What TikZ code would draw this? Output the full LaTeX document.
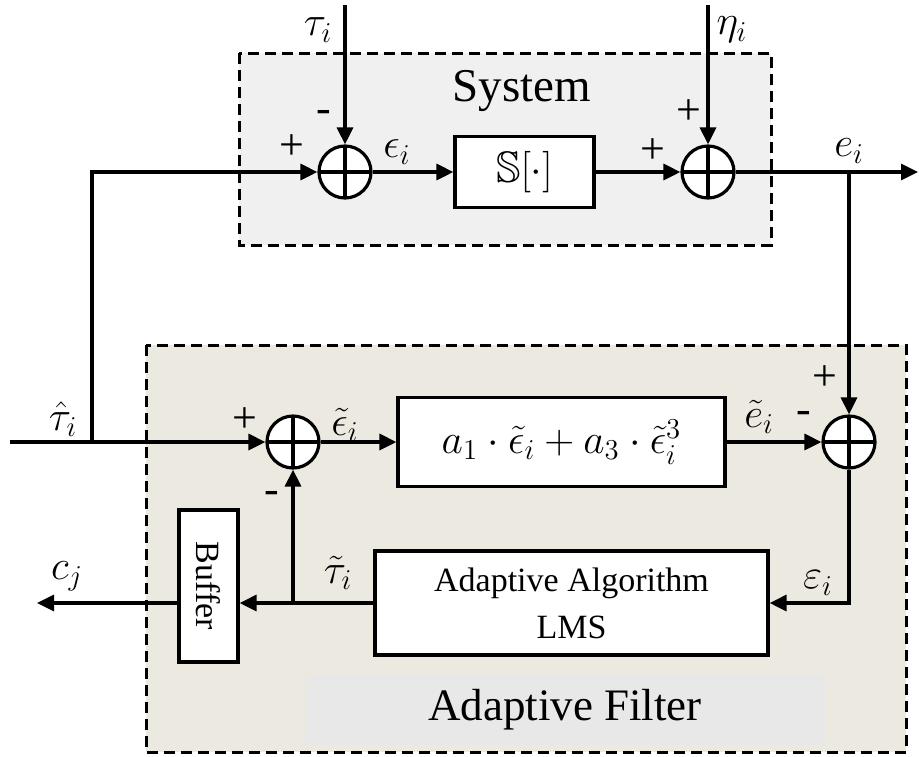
\documentclass[tikz,border=0pt]{standalone}
\usepackage{amsmath,amssymb}
\usepackage{fontspec}
\setmainfont{Liberation Serif}
\usetikzlibrary{arrows.meta}
\definecolor{sysfill}{RGB}{240,240,240}
\definecolor{affill}{RGB}{236,233,224}
\definecolor{lblfill}{RGB}{232,232,232}
\begin{document}
\begin{tikzpicture}[x=0.5pt,y=-0.5pt,
  line width=1.6pt,
  >={Triangle[length=8.5pt,width=8pt]},
  sumnode/.style={circle,draw,fill=white,minimum size=26pt,inner sep=0pt,
    path picture={\draw[line width=1.6pt] (path picture bounding box.north) -- (path picture bounding box.south)
      (path picture bounding box.west) -- (path picture bounding box.east);}},
  blk/.style={draw,fill=white,inner sep=0pt},
  dashbox/.style={draw,line width=1.5pt,dash pattern=on 5.5pt off 3pt},
  mlab/.style={font=\fontsize{20.5}{24}\selectfont, inner sep=0pt},
  lab/.style={font=\fontsize{22}{26}\selectfont, inner sep=0pt},
  sgn/.style={font=\fontsize{22}{26}\selectfont, inner sep=0pt},
  txt/.style={font=\fontsize{17}{23.5}\selectfont},
]
\useasboundingbox (0,0) rectangle (919,756);
% frames
\draw[dashbox,fill=sysfill] (239,53) rectangle (771,245);
\draw[dashbox,fill=affill] (146,345) rectangle (906,752);
\node[fill=lblfill,minimum width=260pt,minimum height=35pt,inner sep=0pt,
      font=\fontsize{22.5}{26}\selectfont] (aflabel) at (565,710) {Adaptive Filter};
\node[font=\fontsize{23.5}{28}\selectfont,anchor=base,inner sep=0pt] (syslabel) at (522,101) {System};

% sums
\node[sumnode] (s1) at (345,172) {};
\node[sumnode] (s2) at (708,172) {};
\node[sumnode] (s3) at (849,442) {};
\node[sumnode] (s4) at (293,442) {};

% blocks
\node[blk,minimum width=69.5pt,minimum height=35.5pt,lab] (sb) at (524.5,172) {$\mathbb{S}[\cdot]$};
\node[blk,minimum width=163.5pt,minimum height=44.5pt,mlab] (fb) at (561.5,442)
  {$a_1\cdot\tilde{\epsilon}_i+a_3\cdot\tilde{\epsilon}_i^3$};
\node[blk,minimum width=196.5pt,minimum height=52pt,txt,align=center] (aa) at (571.5,603)
  {Adaptive Algorithm\\LMS};
\node[blk,minimum width=29.5pt,minimum height=76pt] (buf) at (208.5,586) {};
\node[txt,rotate=-90,inner sep=0pt] (buftxt) at (buf.center) {Buffer};

% free ends
\coordinate (tauin) at (345,5);
\coordinate (etain) at (708,5);
\coordinate (eout) at (918,172);
\coordinate (br2) at (849,172);
\coordinate (tahin) at (10,442);
\coordinate (br1) at (92,442);
\coordinate (cout) at (37,603);

% connectors
\draw[->] (tauin) -- (s1);
\draw[->] (etain) -- (s2);
\draw[->] (s1) -- (sb);
\draw[->] (sb) -- (s2);
\draw[->] (s2) -- (eout);
\draw[->] (br2) -- (s3);
\draw[->] (tahin) -- (s4);
\draw[->] (br1) |- (s1);
\draw[->] (s4) -- (fb);
\draw[->] (fb) -- (s3);
\draw[->] (s3) |- (aa.east);
\draw[->] (aa.west) -- (aa.west -| buf.east);
\draw[->] (aa.west -| s4) -- (s4);
\draw[->] (aa.west -| buf.west) -- (cout);

% labels
\node[lab] (ltau) at (318,30) {$\tau_i$};
\node[lab] (leta) at (732,30) {$\eta_i$};
\node[lab] (leps) at (397,152) {$\epsilon_i$};
\node[lab] (le) at (849,151) {$e_i$};
\node[lab] (ltauhat) at (63,419) {$\hat{\tau}_i$};
\node[lab] (lepst) at (345,425) {$\tilde{\epsilon}_i$};
\node[lab] (let) at (759,417) {$\tilde{e}_i$};
\node[lab] (ltaut) at (338,573) {$\tilde{\tau}_i$};
\node[lab] (lveps) at (818,583) {$\varepsilon_i$};
\node[lab] (lc) at (67,576) {$c_j$};

% signs
\node[sgn] (p1) at (292,147) {+};
\node[sgn] (m1) at (324,116) {-};
\node[sgn] (p2) at (653,151) {+};
\node[sgn] (p3) at (689,112) {+};
\node[sgn] (p4) at (825,378) {+};
\node[sgn] (m2) at (804,417) {-};
\node[sgn] (p5) at (245,420) {+};
\node[sgn] (m3) at (272,497) {-};
\end{tikzpicture}
\end{document}
